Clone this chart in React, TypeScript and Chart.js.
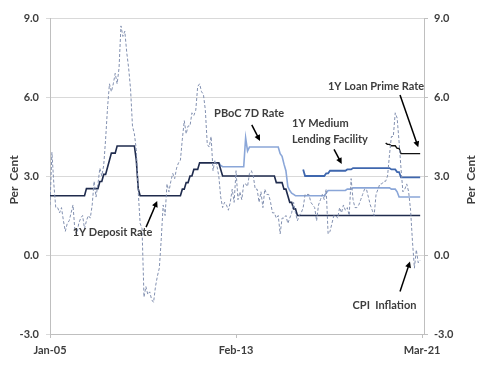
import React, { useEffect, useRef } from "react";
import { Chart, registerables } from "chart.js";

Chart.register(...registerables);

// ---------- categories ----------
const MONTH_NAMES = ["Jan", "Feb", "Mar", "Apr", "May", "Jun", "Jul", "Aug", "Sep", "Oct", "Nov", "Dec"];
const firstYear = 2005;
const monthCount = 195; // Jan-05 .. Mar-21
const months: string[] = [];
for (let i = 0; i < monthCount; i++) {
  const y = firstYear + Math.floor(i / 12);
  months.push(`${MONTH_NAMES[i % 12]}-${String(y % 100).padStart(2, "0")}`);
}
const xTickLabels = ["Jan-05", "Feb-13", "Mar-21"];
const yTicks = [-3, 0, 3, 6, 9];

// ---------- series (monthly, each from its start month) ----------
const cpiStart = "Jan-05";
const cpi = [
  1.9, 3.9, 2.7, 1.8, 1.8, 1.6, 1.8, 1.3, 0.9, 1.2, 1.3, 1.6,
  1.9, 0.9, 0.8, 1.2, 1.4, 1.5, 1.0, 1.3, 1.5, 1.4, 1.9, 2.8,
  2.2, 2.7, 3.3, 3.0, 3.4, 4.4, 5.6, 6.5, 6.2, 6.5, 6.9, 6.5,
  7.1, 8.7, 8.3, 8.5, 7.7, 7.1, 6.3, 4.9, 4.6, 4.0, 2.4, 1.2,
  1.0, -1.6, -1.2, -1.5, -1.4, -1.7, -1.8, -1.2, -0.8, -0.5, 0.6, 1.9,
  1.5, 2.7, 2.4, 2.8, 3.1, 2.9, 3.3, 3.5, 3.6, 4.4, 5.1, 4.6,
  4.9, 4.9, 5.4, 5.3, 5.5, 6.4, 6.5, 6.2, 6.1, 5.5, 4.2, 4.1,
  4.5, 3.2, 3.6, 3.4, 3.0, 2.2, 1.8, 2.0, 1.9, 1.7, 2.0, 2.5,
  2.0, 3.2, 2.1, 2.4, 2.1, 2.7, 2.7, 2.6, 3.1, 3.2, 3.0, 2.5,
  2.5, 2.0, 2.4, 1.8, 2.5, 2.3, 2.3, 2.0, 1.6, 1.6, 1.4, 1.5,
  0.8, 1.4, 1.4, 1.5, 1.2, 1.4, 1.6, 2.0, 1.6, 1.3, 1.5, 1.6,
  1.8, 2.3, 2.3, 2.3, 2.0, 1.9, 1.8, 1.3, 1.9, 2.1, 2.3, 2.1,
  2.5, 0.8, 0.9, 1.2, 1.5, 1.5, 1.4, 1.8, 1.6, 1.9, 1.7, 1.8,
  1.5, 2.9, 2.1, 1.8, 1.8, 1.9, 2.1, 2.3, 2.5, 2.5, 2.2, 1.9,
  1.7, 1.5, 2.3, 2.5, 2.7, 2.7, 2.8, 2.8, 3.0, 3.8, 4.5, 4.5,
  5.4, 5.2, 4.3, 3.3, 2.4, 2.5, 2.7, 2.4, 1.7, 0.5, -0.5, 0.2,
  -0.3, -0.2,
];

const depositStart = "Jan-05";
const deposit = [
  2.25, 2.25, 2.25, 2.25, 2.25, 2.25, 2.25, 2.25, 2.25, 2.25, 2.25, 2.25,
  2.25, 2.25, 2.25, 2.25, 2.25, 2.25, 2.25, 2.52, 2.52, 2.52, 2.52, 2.52,
  2.52, 2.52, 2.79, 2.79, 3.06, 3.06, 3.33, 3.6, 3.87, 3.87, 3.87, 4.14,
  4.14, 4.14, 4.14, 4.14, 4.14, 4.14, 4.14, 4.14, 4.14, 3.6, 2.52, 2.25,
  2.25, 2.25, 2.25, 2.25, 2.25, 2.25, 2.25, 2.25, 2.25, 2.25, 2.25, 2.25,
  2.25, 2.25, 2.25, 2.25, 2.25, 2.25, 2.25, 2.25, 2.25, 2.5, 2.5, 2.75,
  2.75, 3.0, 3.0, 3.25, 3.25, 3.25, 3.5, 3.5, 3.5, 3.5, 3.5, 3.5,
  3.5, 3.5, 3.5, 3.5, 3.5, 3.25, 3.0, 3.0, 3.0, 3.0, 3.0, 3.0,
  3.0, 3.0, 3.0, 3.0, 3.0, 3.0, 3.0, 3.0, 3.0, 3.0, 3.0, 3.0,
  3.0, 3.0, 3.0, 3.0, 3.0, 3.0, 3.0, 3.0, 3.0, 3.0, 2.75, 2.75,
  2.75, 2.75, 2.5, 2.5, 2.25, 2.0, 2.0, 1.75, 1.75, 1.5, 1.5, 1.5,
  1.5, 1.5, 1.5, 1.5, 1.5, 1.5, 1.5, 1.5, 1.5, 1.5, 1.5, 1.5,
  1.5, 1.5, 1.5, 1.5, 1.5, 1.5, 1.5, 1.5, 1.5, 1.5, 1.5, 1.5,
  1.5, 1.5, 1.5, 1.5, 1.5, 1.5, 1.5, 1.5, 1.5, 1.5, 1.5, 1.5,
  1.5, 1.5, 1.5, 1.5, 1.5, 1.5, 1.5, 1.5, 1.5, 1.5, 1.5, 1.5,
  1.5, 1.5, 1.5, 1.5, 1.5, 1.5, 1.5, 1.5, 1.5, 1.5, 1.5, 1.5,
  1.5, 1.5,
];

const rate7dStart = "May-12";
const rate7d = [
  3.5, 3.4, 3.35, 3.35, 3.35, 3.35, 3.35, 3.35,
  3.35, 3.35, 3.35, 3.35, 3.35, 3.35, 4.45, 3.95, 4.1, 4.1, 4.1, 4.1,
  4.1, 4.1, 4.1, 4.1, 4.1, 4.1, 4.1, 4.1, 4.1, 4.1, 4.1, 4.1,
  3.85, 3.75, 3.45, 3.2, 2.6, 2.45, 2.35, 2.3, 2.25, 2.25, 2.25, 2.25,
  2.25, 2.25, 2.25, 2.25, 2.25, 2.25, 2.25, 2.25, 2.25, 2.25, 2.25, 2.25,
  2.35, 2.45, 2.45, 2.45, 2.45, 2.45, 2.45, 2.45, 2.45, 2.45, 2.45, 2.5,
  2.5, 2.5, 2.55, 2.55, 2.55, 2.55, 2.55, 2.55, 2.55, 2.55, 2.55, 2.55,
  2.55, 2.55, 2.55, 2.55, 2.55, 2.55, 2.55, 2.55, 2.55, 2.55, 2.5, 2.5,
  2.5, 2.4, 2.2, 2.2, 2.2, 2.2, 2.2, 2.2, 2.2, 2.2, 2.2, 2.2,
  2.2, 2.2,
];

const mlfStart = "Jan-16";
const mlf = [
  3.25, 3.0, 3.0, 3.0, 3.0, 3.0, 3.0, 3.0, 3.0, 3.0, 3.0, 3.0,
  3.1, 3.1, 3.2, 3.2, 3.2, 3.2, 3.2, 3.2, 3.2, 3.2, 3.2, 3.25,
  3.25, 3.25, 3.3, 3.3, 3.3, 3.3, 3.3, 3.3, 3.3, 3.3, 3.3, 3.3,
  3.3, 3.3, 3.3, 3.3, 3.3, 3.3, 3.3, 3.3, 3.3, 3.3, 3.25, 3.25,
  3.25, 3.15, 3.15, 2.95, 2.95, 2.95, 2.95, 2.95, 2.95, 2.95, 2.95, 2.95,
  2.95, 2.95,
];

const lprStart = "Aug-19";
const lpr = [
  4.25, 4.2, 4.2, 4.15, 4.15,
  4.15, 4.05, 4.05, 3.85, 3.85, 3.85, 3.85, 3.85, 3.85, 3.85, 3.85, 3.85,
  3.85, 3.85,
];

// ---------- annotations (data coordinates: month index, per cent) ----------
const notes = [
  { lines: ["1Y Deposit Rate"], x: 32.6, y: 0.84, align: "center", arrow: [50.1, 1.06, 55.9, 2.05] },
  { lines: ["PBoC 7D Rate"], x: 103.8, y: 5.38, align: "center", arrow: [105.2, 4.94, 109.5, 4.33] },
  { lines: ["1Y Medium", "Lending Facility"], x: 126.2, y: 4.98, align: "left", arrow: [148.1, 4.01, 152.1, 3.46] },
  { lines: ["1Y Loan Prime Rate"], x: 170, y: 6.39, align: "center", arrow: [182.5, 6.08, 192, 4.09] },
  { lines: ["CPI  Inflation"], x: 174.4, y: -1.9, align: "center", arrow: [182.5, -1.39, 187.7, -0.25] },
];
const axisTitle = "Per  Cent";

const FONT = "Lato, 'DejaVu Sans', sans-serif";
const TEXT = "#3d3d3d";

function series(start: string, values: number[]) {
  const s = months.indexOf(start);
  return values.map((v, i) => ({ x: s + i, y: v }));
}

const notesPlugin = {
  id: "notes",
  afterDatasetsDraw(chart: any) {
    const { ctx, scales, chartArea } = chart;
    const xs = scales.x;
    const ys = scales.y;
    ctx.save();
    ctx.fillStyle = TEXT;
    ctx.font = `bold 11px ${FONT}`;
    ctx.textBaseline = "middle";
    for (const n of notes) {
      ctx.textAlign = n.align;
      const px = xs.getPixelForValue(n.x);
      const py = ys.getPixelForValue(n.y);
      n.lines.forEach((l, k) => ctx.fillText(l, px, py + k * 16));
      const [x0, y0, x1, y1] = n.arrow;
      const ax = xs.getPixelForValue(x0), ay = ys.getPixelForValue(y0);
      const bx = xs.getPixelForValue(x1), by = ys.getPixelForValue(y1);
      const ang = Math.atan2(by - ay, bx - ax);
      const hl = 6, hw = 3;
      ctx.strokeStyle = "#000";
      ctx.lineWidth = 1.5;
      ctx.beginPath();
      ctx.moveTo(ax, ay);
      ctx.lineTo(bx - Math.cos(ang) * hl * 0.8, by - Math.sin(ang) * hl * 0.8);
      ctx.stroke();
      ctx.fillStyle = "#000";
      ctx.beginPath();
      ctx.moveTo(bx, by);
      ctx.lineTo(bx - Math.cos(ang) * hl - Math.sin(ang) * hw, by - Math.sin(ang) * hl + Math.cos(ang) * hw);
      ctx.lineTo(bx - Math.cos(ang) * hl + Math.sin(ang) * hw, by - Math.sin(ang) * hl - Math.cos(ang) * hw);
      ctx.closePath();
      ctx.fill();
      ctx.fillStyle = TEXT;
    }
    // axis titles (both read bottom-to-top)
    ctx.font = `bold 12px ${FONT}`;
    ctx.textAlign = "center";
    const cy = (chartArea.top + chartArea.bottom) / 2 + 4;
    for (const tx of [14.5, chart.width - 16]) {
      ctx.save();
      ctx.translate(tx, cy);
      ctx.rotate(-Math.PI / 2);
      ctx.fillText(axisTitle, 0, 0);
      ctx.restore();
    }
    ctx.restore();
  },
};

export default function App() {
  const ref = useRef<HTMLCanvasElement>(null);
  useEffect(() => {
    if (!ref.current) return;
    const tickFont = { family: FONT, size: 11, weight: "bold" as const };
    const yAxisCommon = {
      type: "linear" as const,
      min: -3,
      max: 9,
      afterBuildTicks: (s: any) => {
        s.ticks = yTicks.map((v) => ({ value: v }));
      },
      ticks: {
        color: TEXT,
        font: tickFont,
        callback: (v: any) => Number(v).toFixed(1),
      },
      border: { color: "#bfbfbf", width: 1 },
    };
    const chart = new Chart(ref.current, {
      type: "line",
      data: {
        datasets: [
          {
            label: "CPI Inflation",
            data: series(cpiStart, cpi),
            borderColor: "#8290b0",
            borderWidth: 1,
            borderDash: [3, 2],
            pointRadius: 0,
            tension: 0,
          },
          {
            label: "1Y Deposit Rate",
            data: series(depositStart, deposit),
            borderColor: "#1f2b4d",
            borderWidth: 1.6,
            pointRadius: 0,
          },
          {
            label: "PBoC 7D Rate",
            data: series(rate7dStart, rate7d),
            borderColor: "#8aa6d8",
            borderWidth: 1.6,
            pointRadius: 0,
          },
          {
            label: "1Y Medium Lending Facility",
            data: series(mlfStart, mlf),
            borderColor: "#3f67ae",
            borderWidth: 1.8,
            pointRadius: 0,
          },
          {
            label: "1Y Loan Prime Rate",
            data: series(lprStart, lpr),
            borderColor: "#111111",
            borderWidth: 1.4,
            pointRadius: 0,
          },
        ],
      },
      options: {
        responsive: false,
        animation: false,
        events: [],
        layout: { padding: { top: 18, left: 0, right: 0, bottom: 0 } },
        plugins: { legend: { display: false }, tooltip: { enabled: false } },
        scales: {
          x: {
            type: "linear",
            min: 0,
            max: monthCount,
            afterBuildTicks: (s: any) => {
              s.ticks = xTickLabels.map((l) => ({ value: months.indexOf(l) }));
            },
            afterFit: (s: any) => {
              s.height = 38;
            },
            ticks: {
              color: TEXT,
              font: tickFont,
              padding: 6,
              maxRotation: 0,
              callback: (v: any) => months[Math.round(Number(v))],
            },
            grid: { drawOnChartArea: false, drawTicks: true, tickLength: 4, color: "#bfbfbf" },
            border: { color: "#bfbfbf", width: 1 },
          },
          y: {
            ...yAxisCommon,
            position: "left",
            afterFit: (s: any) => {
              s.width = 50;
            },
            ticks: { ...yAxisCommon.ticks, padding: 7 },
            grid: { color: "#d9d9d9", lineWidth: 1, tickLength: 4, drawTicks: true },
          },
          y1: {
            ...yAxisCommon,
            position: "right",
            afterFit: (s: any) => {
              s.width = 63;
            },
            ticks: { ...yAxisCommon.ticks, padding: 6 },
            grid: { drawOnChartArea: false, tickLength: 4, color: "#bfbfbf" },
          },
        },
      },
      plugins: [notesPlugin],
    } as any);
    return () => chart.destroy();
  }, []);
  return (
    <div style={{ position: "absolute", left: 0, top: 0, width: 487, height: 372, background: "#fff" }}>
      <canvas ref={ref} width={487} height={372} style={{ display: "block" }} />
    </div>
  );
}
